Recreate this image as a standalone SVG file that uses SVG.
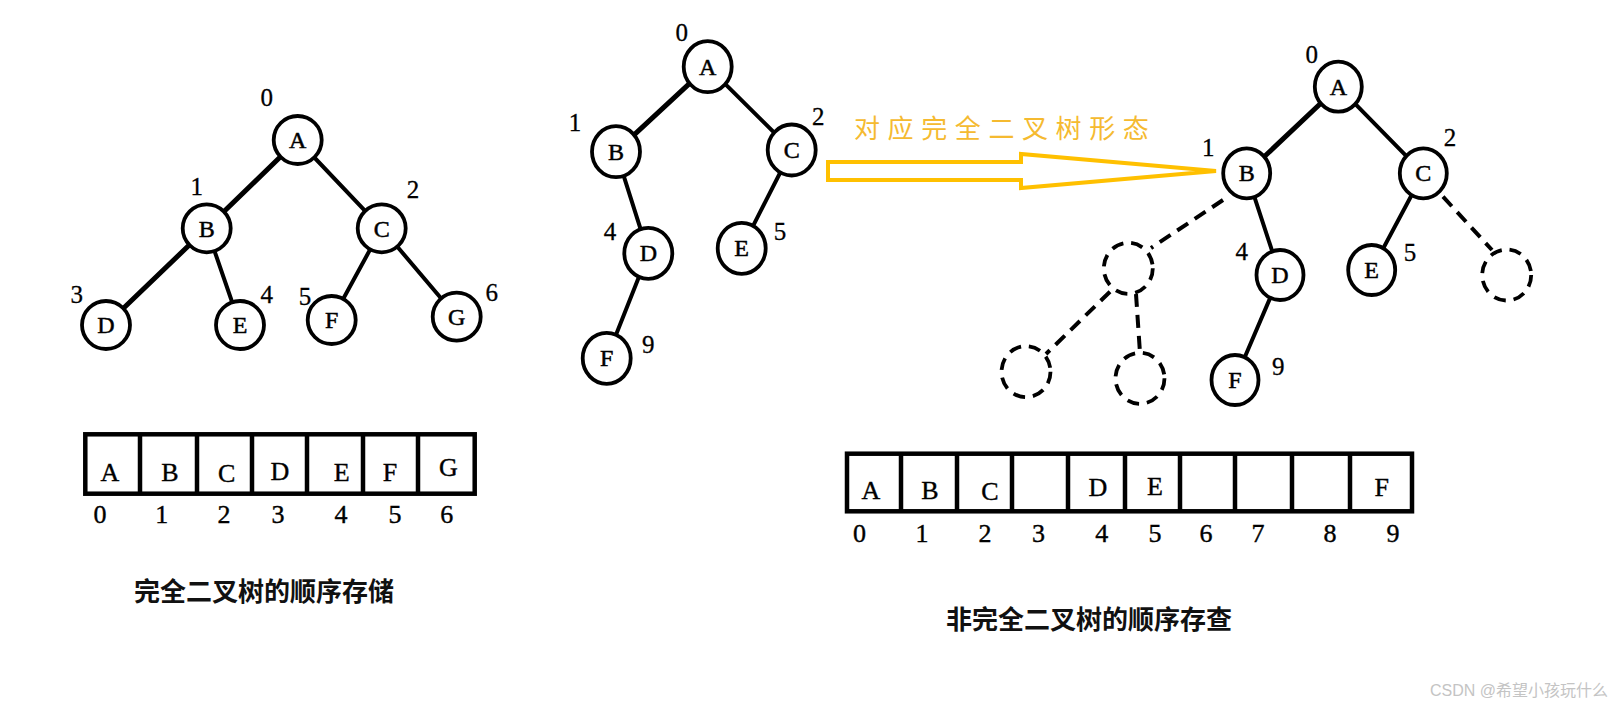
<svg xmlns="http://www.w3.org/2000/svg" width="1617" height="707" viewBox="0 0 1617 707">
<style>
.e{stroke:#000;stroke-width:4;fill:none;stroke-linecap:round}
.ew{stroke:#000;stroke-width:5;fill:none;stroke-linecap:round}
.ed{stroke:#000;stroke-width:4;fill:none;stroke-dasharray:13 8}
.n{fill:#fff;stroke:#000;stroke-width:3.8}
.nd{fill:#fff;stroke:#000;stroke-width:3.8;stroke-dasharray:12 8}
.t{font-family:"Liberation Serif","Times New Roman",serif;font-size:24px;text-anchor:middle;fill:#000;stroke:#000;stroke-width:0.5}
.i{font-family:"Liberation Serif","Times New Roman",serif;font-size:25px;text-anchor:middle;fill:#000;stroke:#000;stroke-width:0.3}
.a{font-family:"Liberation Serif","Times New Roman",serif;font-size:26px;text-anchor:middle;fill:#000;stroke:#000;stroke-width:0.4}
.cell{fill:#fff;stroke:#000;stroke-width:4.5}
.div{stroke:#000;stroke-width:4.5}
.title{font-family:"Noto Sans CJK SC","Noto Sans",sans-serif;font-size:26px;font-weight:bold;fill:#111}
</style>
<rect width="1617" height="707" fill="#fff"/>

<g id="connectors">
  <!-- left tree -->
  <line class="ew" x1="297.7" y1="140" x2="206.7" y2="228.3"/>
  <line class="e" x1="297.7" y1="140" x2="381.7" y2="228.3"/>
  <line class="ew" x1="206.7" y1="228.3" x2="106" y2="325"/>
  <line class="e" x1="206.7" y1="228.3" x2="240" y2="325"/>
  <line class="e" x1="381.7" y1="228.3" x2="331.7" y2="320"/>
  <line class="e" x1="381.7" y1="228.3" x2="456.7" y2="316.7"/>
  <!-- middle tree -->
  <line class="ew" x1="707.7" y1="66.7" x2="616" y2="151.7"/>
  <line class="e" x1="707.7" y1="66.7" x2="791.7" y2="150"/>
  <line class="e" x1="616" y1="151.7" x2="648.3" y2="253.3"/>
  <line class="e" x1="791.7" y1="150" x2="741.7" y2="248.3"/>
  <line class="e" x1="648.3" y1="253.3" x2="606.7" y2="358.3"/>
  <!-- right tree -->
  <line class="ew" x1="1338.3" y1="86.7" x2="1246.7" y2="173.3"/>
  <line class="e" x1="1338.3" y1="86.7" x2="1423.3" y2="173.3"/>
  <line class="e" x1="1246.7" y1="173.3" x2="1280" y2="275"/>
  <line class="e" x1="1423.3" y1="173.3" x2="1371.7" y2="270"/>
  <line class="e" x1="1280" y1="275" x2="1235" y2="380"/>
  <line class="ed" x1="1223" y1="200" x2="1151" y2="248"/>
  <line class="ed" x1="1443" y1="196.7" x2="1492" y2="250"/>
  <line class="ed" x1="1110" y1="291.7" x2="1046" y2="354"/>
  <line class="ed" x1="1136" y1="294" x2="1140" y2="353"/>
  <!-- transform arrow -->
  <polygon points="828,162 1021,162 1021,154 1216,171 1021,188 1021,180 828,180" fill="#fff" stroke="#FFC000" stroke-width="4" stroke-linejoin="miter"/>
</g>

<text x="854" y="138" font-family="'Noto Sans CJK SC','Noto Sans',sans-serif" font-size="26" letter-spacing="7.6" fill="#F5BA30">对应完全二叉树形态</text>

<!-- left tree nodes -->
<g id="L-A"><circle class="n" cx="297.7" cy="140" r="24"/><text class="t" x="297.7" y="148">A</text><text class="i" x="266.7" y="106">0</text></g>
<g id="L-B"><circle class="n" cx="206.7" cy="228.3" r="24"/><text class="t" x="206.7" y="236.5">B</text><text class="i" x="196.7" y="195">1</text></g>
<g id="L-C"><circle class="n" cx="381.7" cy="228.3" r="24"/><text class="t" x="381.7" y="236.5">C</text><text class="i" x="413" y="198">2</text></g>
<g id="L-D"><circle class="n" cx="106" cy="325" r="24"/><text class="t" x="106" y="333">D</text><text class="i" x="76.7" y="303">3</text></g>
<g id="L-E"><circle class="n" cx="240" cy="325" r="24"/><text class="t" x="240" y="333">E</text><text class="i" x="266.7" y="303">4</text></g>
<g id="L-F"><circle class="n" cx="331.7" cy="320" r="24"/><text class="t" x="331.7" y="328">F</text><text class="i" x="305" y="305">5</text></g>
<g id="L-G"><circle class="n" cx="456.7" cy="316.7" r="24"/><text class="t" x="456.7" y="324.7">G</text><text class="i" x="491.7" y="301">6</text></g>

<!-- middle tree nodes -->
<g id="M-A"><ellipse class="n" cx="707.7" cy="66.7" rx="24" ry="25.5"/><text class="t" x="707.7" y="74.7">A</text><text class="i" x="681.7" y="41">0</text></g>
<g id="M-B"><ellipse class="n" cx="616" cy="151.7" rx="24" ry="25.5"/><text class="t" x="616" y="159.7">B</text><text class="i" x="575" y="131">1</text></g>
<g id="M-C"><ellipse class="n" cx="791.7" cy="150" rx="24" ry="25.5"/><text class="t" x="791.7" y="158">C</text><text class="i" x="818.3" y="125">2</text></g>
<g id="M-D"><ellipse class="n" cx="648.3" cy="253.3" rx="24" ry="25.5"/><text class="t" x="648.3" y="261.3">D</text><text class="i" x="610" y="240">4</text></g>
<g id="M-E"><ellipse class="n" cx="741.7" cy="248.3" rx="24" ry="25.5"/><text class="t" x="741.7" y="256.3">E</text><text class="i" x="780" y="240">5</text></g>
<g id="M-F"><ellipse class="n" cx="606.7" cy="358.3" rx="24" ry="25.5"/><text class="t" x="606.7" y="366.3">F</text><text class="i" x="648.3" y="353">9</text></g>

<!-- right tree nodes -->
<g id="R-A"><ellipse class="n" cx="1338.3" cy="86.7" rx="23.5" ry="25"/><text class="t" x="1338.3" y="94.7">A</text><text class="i" x="1311.7" y="63">0</text></g>
<g id="R-B"><ellipse class="n" cx="1246.7" cy="173.3" rx="23.5" ry="25"/><text class="t" x="1246.7" y="181.3">B</text><text class="i" x="1208.3" y="156">1</text></g>
<g id="R-C"><ellipse class="n" cx="1423.3" cy="173.3" rx="23.5" ry="25"/><text class="t" x="1423.3" y="181.3">C</text><text class="i" x="1450" y="146">2</text></g>
<g id="R-D"><ellipse class="n" cx="1280" cy="275" rx="23.5" ry="25"/><text class="t" x="1280" y="283">D</text><text class="i" x="1241.7" y="260">4</text></g>
<g id="R-E"><ellipse class="n" cx="1371.7" cy="270" rx="23.5" ry="25"/><text class="t" x="1371.7" y="278">E</text><text class="i" x="1410" y="261">5</text></g>
<g id="R-F"><ellipse class="n" cx="1235" cy="380" rx="23.5" ry="25"/><text class="t" x="1235" y="388">F</text><text class="i" x="1278.3" y="375">9</text></g>
<g id="R-X1"><ellipse class="nd" cx="1128.3" cy="268.3" rx="24.5" ry="25.5"/></g>
<g id="R-X2"><ellipse class="nd" cx="1506.7" cy="275" rx="24.5" ry="25.5"/></g>
<g id="R-X3"><ellipse class="nd" cx="1026" cy="371.7" rx="24.5" ry="25.5"/></g>
<g id="R-X4"><ellipse class="nd" cx="1140" cy="378.3" rx="24.5" ry="25.5"/></g>

<!-- left array -->
<g id="array-left">
  <rect class="cell" x="85.3" y="434.3" width="389.4" height="59.4"/>
  <line class="div" x1="140" y1="434" x2="140" y2="494"/>
  <line class="div" x1="197" y1="434" x2="197" y2="494"/>
  <line class="div" x1="252" y1="434" x2="252" y2="494"/>
  <line class="div" x1="307" y1="434" x2="307" y2="494"/>
  <line class="div" x1="363" y1="434" x2="363" y2="494"/>
  <line class="div" x1="418" y1="434" x2="418" y2="494"/>
  <text class="a" x="110" y="481">A</text>
  <text class="a" x="170" y="481">B</text>
  <text class="a" x="226.7" y="482">C</text>
  <text class="a" x="280" y="480">D</text>
  <text class="a" x="341.7" y="481">E</text>
  <text class="a" x="390" y="481">F</text>
  <text class="a" x="448.3" y="476">G</text>
  <text class="a" x="100" y="523">0</text>
  <text class="a" x="161.7" y="523">1</text>
  <text class="a" x="224" y="523">2</text>
  <text class="a" x="278" y="523">3</text>
  <text class="a" x="341" y="523">4</text>
  <text class="a" x="395" y="523">5</text>
  <text class="a" x="446.7" y="523">6</text>
</g>

<!-- right array -->
<g id="array-right">
  <rect class="cell" x="847" y="453.7" width="565" height="57.6"/>
  <line class="div" x1="901" y1="453" x2="901" y2="512"/>
  <line class="div" x1="957" y1="453" x2="957" y2="512"/>
  <line class="div" x1="1012" y1="453" x2="1012" y2="512"/>
  <line class="div" x1="1068" y1="453" x2="1068" y2="512"/>
  <line class="div" x1="1125" y1="453" x2="1125" y2="512"/>
  <line class="div" x1="1180" y1="453" x2="1180" y2="512"/>
  <line class="div" x1="1235" y1="453" x2="1235" y2="512"/>
  <line class="div" x1="1292" y1="453" x2="1292" y2="512"/>
  <line class="div" x1="1350" y1="453" x2="1350" y2="512"/>
  <text class="a" x="871" y="499">A</text>
  <text class="a" x="930" y="499">B</text>
  <text class="a" x="990" y="500">C</text>
  <text class="a" x="1098" y="496">D</text>
  <text class="a" x="1155" y="495">E</text>
  <text class="a" x="1381.7" y="496">F</text>
  <text class="a" x="859.6" y="542">0</text>
  <text class="a" x="922" y="542">1</text>
  <text class="a" x="985" y="542">2</text>
  <text class="a" x="1038.5" y="542">3</text>
  <text class="a" x="1101.7" y="542">4</text>
  <text class="a" x="1155" y="542">5</text>
  <text class="a" x="1206" y="542">6</text>
  <text class="a" x="1258" y="542">7</text>
  <text class="a" x="1330" y="542">8</text>
  <text class="a" x="1393" y="542">9</text>
</g>

<text class="title" x="134" y="601">完全二叉树的顺序存储</text>
<text class="title" x="946" y="629">非完全二叉树的顺序存查</text>

<text x="1430" y="696" font-family="'Liberation Sans','Noto Sans CJK SC',sans-serif" font-size="16" fill="#c4c4c4">CSDN @希望小孩玩什么</text>
</svg>
